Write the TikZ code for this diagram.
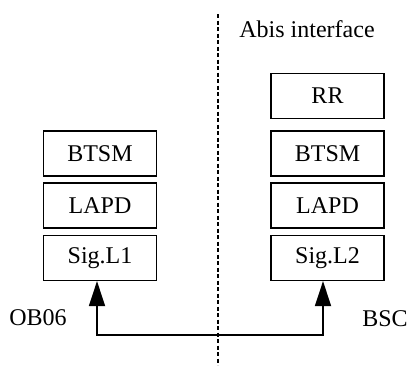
\documentclass[tikz,border=0pt]{standalone}
\usepackage{fontspec}
\setmainfont{Liberation Serif}
\usetikzlibrary{arrows.meta}
\begin{document}
\begin{tikzpicture}[x=1pt,y=-1pt,
  layer/.style={draw, line width=1.2pt, minimum width=113pt, minimum height=45pt, inner sep=0pt, font=\fontsize{24}{28}\selectfont},
  lbl/.style={inner sep=0pt, font=\fontsize{24}{28}\selectfont},
  link/.style={line width=1.8pt, {Triangle[length=25pt,width=16pt]}-{Triangle[length=25pt,width=16pt]}}]
\useasboundingbox (0,0) rectangle (411,365);
% left stack
\node[layer] (btsm1) at (100,153.5) {BTSM};
\node[layer] (lapd1) at (100,205.5) {LAPD};
\node[layer] (sig1) at (100,258) {Sig.L1};
% right stack
\node[layer] (rr) at (327.5,96) {RR};
\node[layer] (btsm2) at (327.5,153.5) {BTSM};
\node[layer] (lapd2) at (327.5,205.5) {LAPD};
\node[layer] (sig2) at (327.5,258) {Sig.L2};
% dashed interface line
\coordinate (dtop) at (218,14);
\coordinate (dbot) at (218,365);
\draw[line width=1.2pt, dash pattern=on 4pt off 2.5pt] (dtop) -- (dbot);
\node[lbl] (abis) at (307,29) {Abis interface};
% labels
\node[lbl] (ob) at (38,318) {OB06};
\node[lbl] (bsc) at (385,319) {BSC};
% link
\coordinate (bl) at (97,335);
\coordinate (br) at (323,335);
\draw[link] (bl |- sig1.south) -- (bl) -- (br) -- (br |- sig2.south);
\end{tikzpicture}
\end{document}
